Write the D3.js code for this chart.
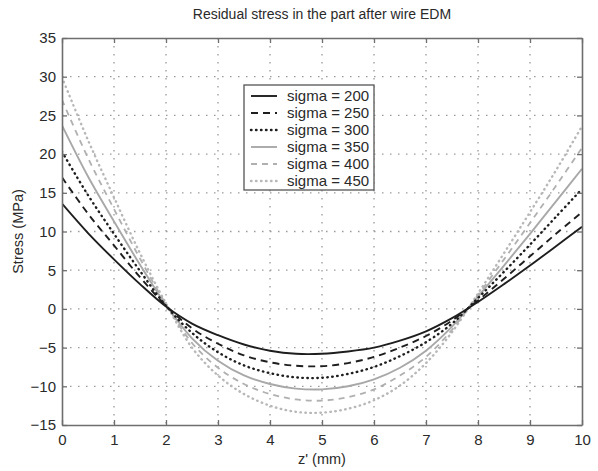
<!DOCTYPE html>
<html>
<head>
<meta charset="utf-8">
<script src="https://cdn.jsdelivr.net/npm/d3@7"></script>
<style>
  html, body { margin: 0; padding: 0; background: #fff; }
  svg { display: block; }
  text { font-family: "Liberation Sans", Arial, Helvetica, sans-serif; fill: #2a2a2a; }
</style>
</head>
<body>
<svg id="chart" width="598" height="471"></svg>
<script>
// ---- data ----
const zValues = [0, 0.5, 1, 1.5, 2, 2.5, 3, 3.5, 4, 4.5, 5, 5.5, 6, 6.5, 7, 7.5, 8, 8.5, 9, 9.5, 10];
const sigma200 = [13.6, 9.8, 6.4, 3.2, 0.3, -1.9, -3.4, -4.6, -5.4, -5.8, -5.8, -5.5, -5.0, -4.1, -2.9, -1.2, 0.9, 3.2, 5.6, 8.1, 10.6];
const sigma250 = [17.0, 12.3, 8.2, 4.1, 0.4, -2.5, -4.5, -6.0, -6.9, -7.35, -7.4, -7.0, -6.2, -5.0, -3.5, -1.5, 1.1, 3.9, 6.8, 9.7, 12.5];
const sigma300 = [20.3, 14.7, 9.7, 4.9, 0.4, -3.1, -5.6, -7.3, -8.3, -8.85, -8.9, -8.4, -7.5, -6.1, -4.3, -1.9, 1.4, 4.8, 8.3, 11.9, 15.5];
const sigma350 = [23.7, 17.1, 11.3, 5.7, 0.5, -3.8, -6.7, -8.6, -9.7, -10.3, -10.4, -10.0, -9.1, -7.6, -5.4, -2.3, 1.6, 5.6, 9.7, 13.9, 18.1];
const sigma400 = [27.0, 19.5, 12.9, 6.5, 0.6, -4.4, -7.6, -9.7, -11.0, -11.7, -11.85, -11.4, -10.4, -8.6, -6.2, -2.7, 1.8, 6.4, 11.1, 15.9, 20.8];
const sigma450 = [29.9, 21.8, 14.4, 7.2, 0.7, -5.0, -8.6, -11.0, -12.5, -13.3, -13.4, -12.9, -11.8, -9.9, -7.0, -3.0, 2.0, 7.2, 12.5, 17.9, 23.6];
const seriesLabels = ["sigma = 200", "sigma = 250", "sigma = 300", "sigma = 350", "sigma = 400", "sigma = 450"];
const xTicks = [0, 1, 2, 3, 4, 5, 6, 7, 8, 9, 10];
const yTicks = [-15, -10, -5, 0, 5, 10, 15, 20, 25, 30, 35];
const titleText = "Residual stress in the part after wire EDM";
const xLabel = "z' (mm)";
const yLabel = "Stress (MPa)";

(function () {
// ---- styles ----
const styles = [
  { color: "#1e1e1e", dash: null, width: 1.9, cap: "butt" },
  { color: "#1e1e1e", dash: "7,5", width: 1.9, cap: "butt" },
  { color: "#1e1e1e", dash: "0.5,4.5", width: 2.4, cap: "round" },
  { color: "#a8a8a8", dash: null, width: 1.9, cap: "butt" },
  { color: "#b0b0b0", dash: "6,5", width: 1.8, cap: "butt" },
  { color: "#b8b8b8", dash: "0.5,4.5", width: 2.4, cap: "round" }
];
const allSeries = [sigma200, sigma250, sigma300, sigma350, sigma400, sigma450];

const svg = d3.select("#chart");
const pL = 62, pR = 582, pT = 38, pB = 425;

const x = d3.scaleLinear().domain([0, 10]).range([pL, pR]);
const y = d3.scaleLinear().domain([-15, 35]).range([pB, pT]);

// grid
const grid = svg.append("g");
grid.selectAll("line.vg").data(xTicks.slice(1, -1)).enter().append("line")
  .attr("x1", d => x(d)).attr("x2", d => x(d)).attr("y1", pT).attr("y2", pB)
  .attr("stroke", "#9a9a9a").attr("stroke-width", 1.3).attr("stroke-dasharray", "1.5,6.5");
grid.selectAll("line.hg").data(yTicks.slice(1, -1)).enter().append("line")
  .attr("x1", pL).attr("x2", pR).attr("y1", d => y(d)).attr("y2", d => y(d))
  .attr("stroke", "#9a9a9a").attr("stroke-width", 1.3).attr("stroke-dasharray", "1.5,6.5");

// lines
const line = d3.line().x((d, i) => x(zValues[i])).y(d => y(d)).curve(d3.curveCatmullRom.alpha(0.5));
svg.append("clipPath").attr("id", "clip").append("rect")
  .attr("x", pL).attr("y", pT).attr("width", pR - pL).attr("height", pB - pT);
const lg = svg.append("g").attr("clip-path", "url(#clip)");
[5, 4, 3, 2, 1, 0].forEach(i => {
  const s = styles[i];
  lg.append("path").datum(allSeries[i]).attr("d", line)
    .attr("fill", "none").attr("stroke", s.color).attr("stroke-width", s.width)
    .attr("stroke-dasharray", s.dash).attr("stroke-linecap", s.cap);
});

// axes (box with inward ticks)
const axisColor = "#6e6e6e";
const xAxisB = d3.axisBottom(x).tickValues(xTicks).tickSizeInner(-5).tickSizeOuter(0).tickPadding(9).tickFormat(d3.format("d"));
const xAxisT = d3.axisTop(x).tickValues(xTicks).tickSizeInner(-5).tickSizeOuter(0).tickFormat("");
const yAxisL = d3.axisLeft(y).tickValues(yTicks).tickSizeInner(-5).tickSizeOuter(0).tickPadding(6).tickFormat(d3.format("d"));
const yAxisR = d3.axisRight(y).tickValues(yTicks).tickSizeInner(-5).tickSizeOuter(0).tickFormat("");

function styleAxis(g) {
  g.select(".domain").attr("stroke", axisColor).attr("stroke-width", 1.6);
  g.selectAll(".tick line").attr("stroke", axisColor).attr("stroke-width", 1.3);
  g.selectAll(".tick text").attr("font-size", 15).attr("fill", "#2a2a2a")
    .attr("font-family", '"Liberation Sans", Arial, sans-serif');
}
svg.append("g").attr("transform", `translate(0,${pB})`).call(xAxisB).call(styleAxis);
svg.append("g").attr("transform", `translate(0,${pT})`).call(xAxisT).call(styleAxis);
svg.append("g").attr("transform", `translate(${pL},0)`).call(yAxisL).call(styleAxis);
svg.append("g").attr("transform", `translate(${pR},0)`).call(yAxisR).call(styleAxis);

// title & labels
svg.append("text").attr("x", (pL + pR) / 2).attr("y", 19).attr("text-anchor", "middle")
  .attr("font-size", 14).text(titleText);
svg.append("text").attr("x", (pL + pR) / 2).attr("y", 464).attr("text-anchor", "middle")
  .attr("font-size", 14.5).text(xLabel);
svg.append("text").attr("transform", `translate(23,${(pT + pB) / 2}) rotate(-90)`)
  .attr("text-anchor", "middle").attr("font-size", 14.5).text(yLabel);

// legend
const legX = 244, legY = 85, legW = 130, legH = 105;
const leg = svg.append("g");
leg.append("rect").attr("x", legX).attr("y", legY).attr("width", legW).attr("height", legH)
  .attr("fill", "#fff").attr("stroke", "#555").attr("stroke-width", 1.3);
seriesLabels.forEach((lab, i) => {
  const cy = legY + 11 + i * 17;
  const s = styles[i];
  leg.append("line").attr("x1", legX + 7).attr("x2", legX + 33).attr("y1", cy).attr("y2", cy)
    .attr("stroke", s.color).attr("stroke-width", s.width).attr("stroke-dasharray", s.dash)
    .attr("stroke-linecap", s.cap);
  leg.append("text").attr("x", legX + 43).attr("y", cy + 5).attr("font-size", 15).text(lab);
});
})();
</script>
</body>
</html>
